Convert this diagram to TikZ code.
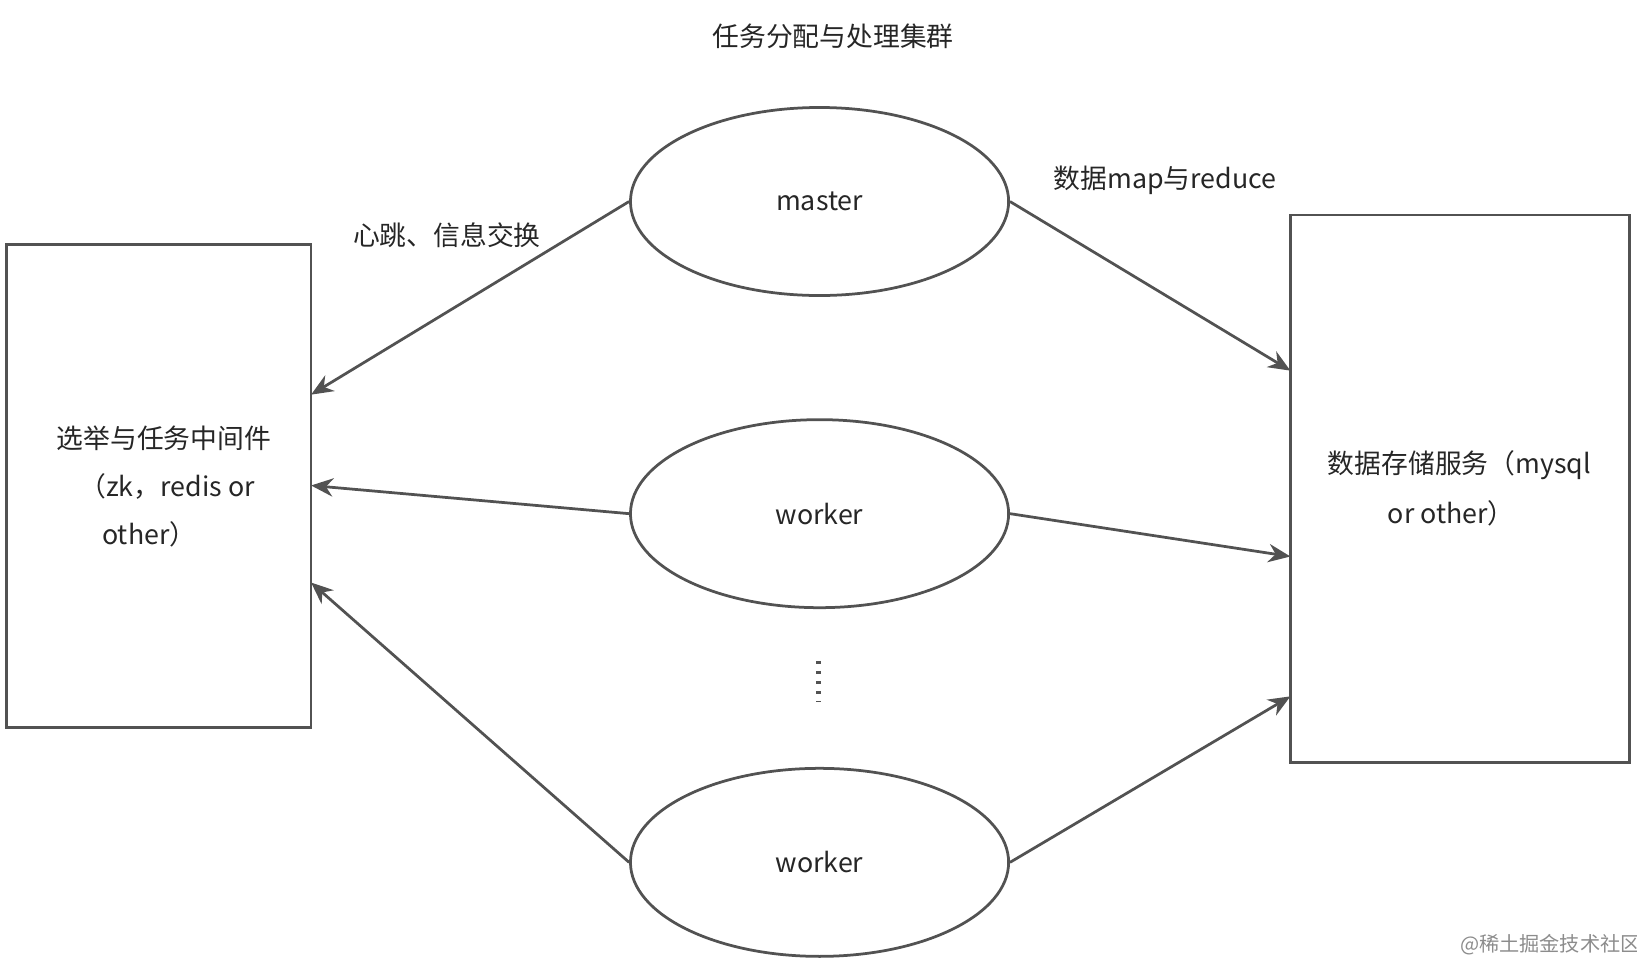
\documentclass[tikz,border=0pt]{standalone}
\usepackage{fontspec}
\setmainfont{Noto Sans CJK SC}
\usetikzlibrary{shapes.geometric,arrows.meta}
\begin{document}
\begin{tikzpicture}[x=0.01cm,y=-0.01cm,
  line/.style={draw=black!68,line width=0.75pt},
  arr/.style={line,-{Stealth[length=6pt,width=5pt]}},
  ell/.style={ellipse,line,minimum width=3.62cm,minimum height=1.8cm,inner sep=0pt},
  txt/.style={font=\fontsize{7.3}{9}\selectfont,text=black!85,inner sep=0pt}]
\useasboundingbox (0,0) rectangle (1568,920);
\node[txt] (title) at (798,35) {任务分配与处理集群};
\draw[line] (6,234) rectangle (298,697);
\draw[line] (1236,206) rectangle (1561,730);
\node[ell] (m) at (785,193) {};
\node[ell] (w1) at (785,492) {};
\node[ell] (w2) at (785,826) {};
\node[txt] at (m) {master};
\node[txt] at (w1) {worker};
\node[txt] at (w2) {worker};
\coordinate (l1) at (298,378); \coordinate (l2) at (298,465); \coordinate (l3) at (298,558);
\coordinate (r1) at (1236,355); \coordinate (r2) at (1236,533); \coordinate (r3) at (1236,667);
\draw[arr] (m.west) -- (l1);
\draw[arr] (w1.west) -- (l2);
\draw[arr] (w2.west) -- (l3);
\draw[arr] (m.east) -- (r1);
\draw[arr] (w1.east) -- (r2);
\draw[arr] (w2.east) -- (r3);
\draw[line,dotted,line width=1.2pt] (784,633) -- (784,672);
\node[txt] (hb) at (428,225) {心跳、信息交换};
\node[txt] (mr) at (1116,173) {数据map与reduce};
\node[txt] (a1) at (157,420) {选举与任务中间件};
\node[txt] (a2) at (160,466) {（zk，redis or};
\node[txt] (a3) at (143,512) {other）};
\node[txt] (b1) at (1398,446) {数据存储服务（mysql};
\node[txt] (b2) at (1390,492) {or other）};
\node[txt,text=black!45,font=\fontsize{5.5}{7}\selectfont] (wm) at (1485,905) {@稀土掘金技术社区};
\end{tikzpicture}
\end{document}
